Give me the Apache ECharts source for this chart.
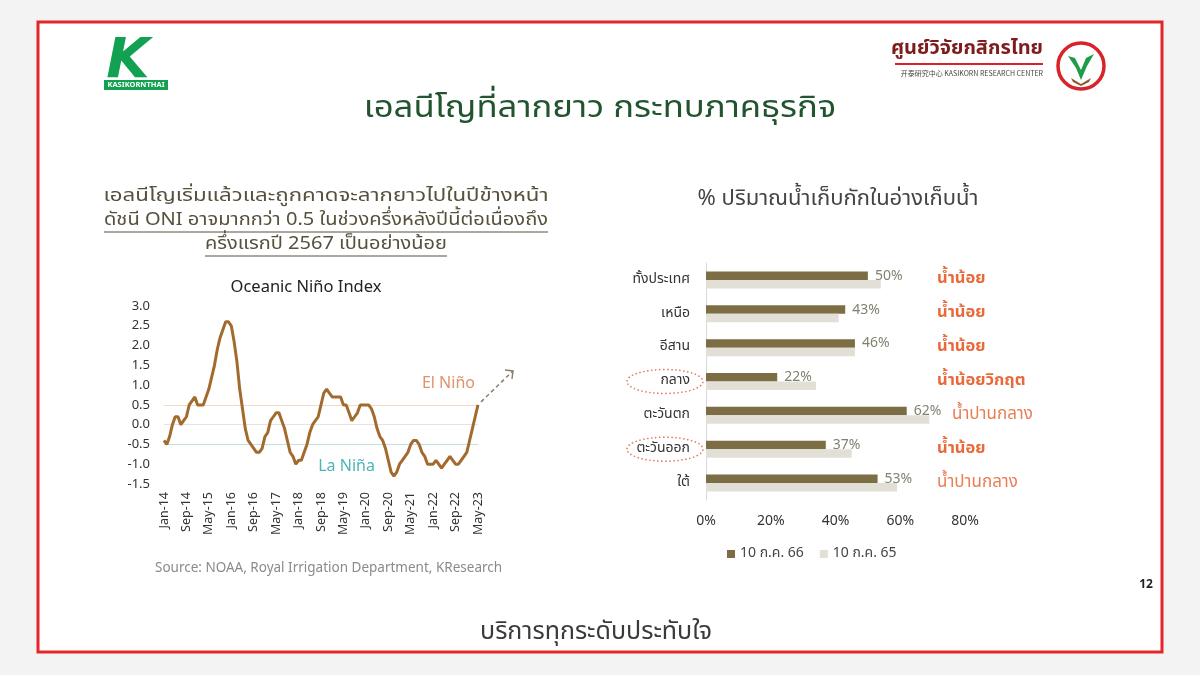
<!DOCTYPE html>
<html>
<head>
<meta charset="utf-8">
<script src="https://cdn.jsdelivr.net/npm/echarts@6/dist/echarts.min.js"></script>
<style>
html,body{margin:0;padding:0;background:#f3f3f3;}
#chart{width:1200px;height:675px;}
</style>
</head>
<body>
<div id="chart"></div>
<script>
// ---------------- DATA ----------------
const oniYears = ['14','15','16','17','18','19','20','21','22','23'];
const monthNames = ['Jan','Feb','Mar','Apr','May','Jun','Jul','Aug','Sep','Oct','Nov','Dec'];
const oni2014 = [-0.4,-0.5,-0.3,0.0,0.2,0.2,0.0,0.1,0.2,0.5,0.6,0.7];
const oni2015 = [0.5,0.5,0.5,0.7,0.9,1.2,1.5,1.9,2.2,2.4,2.6,2.6];
const oni2016 = [2.5,2.1,1.6,0.9,0.4,-0.1,-0.4,-0.5,-0.6,-0.7,-0.7,-0.6];
const oni2017 = [-0.3,-0.2,0.1,0.2,0.3,0.3,0.1,-0.1,-0.4,-0.7,-0.8,-1.0];
const oni2018 = [-0.9,-0.9,-0.7,-0.5,-0.2,0.0,0.1,0.2,0.5,0.8,0.9,0.8];
const oni2019 = [0.7,0.7,0.7,0.7,0.5,0.5,0.3,0.1,0.2,0.3,0.5,0.5];
const oni2020 = [0.5,0.5,0.4,0.2,-0.1,-0.3,-0.4,-0.6,-0.9,-1.2,-1.3,-1.2];
const oni2021 = [-1.0,-0.9,-0.8,-0.7,-0.5,-0.4,-0.4,-0.5,-0.7,-0.8,-1.0,-1.0];
const oni2022 = [-1.0,-0.9,-1.0,-1.1,-1.0,-0.9,-0.8,-0.9,-1.0,-1.0,-0.9,-0.8];
const oni2023 = [-0.7,-0.4,-0.1,0.2,0.5];
const oniYTicks = [-1.5,-1.0,-0.5,0.0,0.5,1.0,1.5,2.0,2.5,3.0];
const oniRefLines = [0.5, 0.0, -0.5];

const regions = ['ทั้งประเทศ','เหนือ','อีสาน','กลาง','ตะวันตก','ตะวันออก','ใต้'];
const storage66 = [50,43,46,22,62,37,53];
const storage65 = [54,41,46,34,69,45,59];
const status = ['น้ำน้อย','น้ำน้อย','น้ำน้อย','น้ำน้อยวิกฤต','น้ำปานกลาง','น้ำน้อย','น้ำปานกลาง'];
const pctTicks = [0,20,40,60,80];
const seriesNames = ['10 ก.ค. 66','10 ก.ค. 65'];
const highlightRegions = ['กลาง','ตะวันออก'];

// ---------------- BUILD ----------------
const oniValues = [].concat(oni2014,oni2015,oni2016,oni2017,oni2018,oni2019,oni2020,oni2021,oni2022,oni2023);
const oniCats = [];
oniYears.forEach(y => monthNames.forEach(m => oniCats.push(m + '-' + y)));
oniCats.length = oniValues.length;

const THAI = '"Noto Sans Thai","Noto Sans Thai Looped","Loma","Garuda","Noto Sans","DejaVu Sans",sans-serif';
const LAT = '"Noto Sans","Open Sans",sans-serif';

const chart = echarts.init(document.getElementById('chart'), null, {renderer:'canvas'});

function statusLabel(v, i) {
  const s = status[i];
  const normal = s.indexOf('ปานกลาง') >= 0;
  // push the note right when the value label of a long bar would run into it
  const key = normal ? (storage66[i] > 58 ? 'n2' : 'n') : 'b';
  return '{' + key + '|' + s + '}';
}

const option = {
  backgroundColor: '#f3f3f3',
  animation: false,
  textStyle: {fontFamily: THAI},
  grid: [
    {left: 164, right: 722, top: 306, height: 178, containLabel: false},
    {left: 706, right: 235, top: 263, bottom: 175, containLabel: false}
  ],
  legend: {
    data: seriesNames,
    left: 722, top: 542,
    itemWidth: 8, itemHeight: 8, itemGap: 16,
    icon: 'rect',
    textStyle: {fontSize: 14, color: '#444', fontFamily: THAI}
  },
  xAxis: [
    {
      gridIndex: 0, type: 'category', data: oniCats, boundaryGap: false,
      axisLine: {show: false}, axisTick: {show: false},
      axisLabel: {interval: 7, rotate: 90, fontSize: 12.5, color: '#333', margin: 8, fontFamily: LAT},
      splitLine: {show: false}
    },
    {
      gridIndex: 1, type: 'value', min: pctTicks[0], max: pctTicks[pctTicks.length-1], interval: 20,
      axisLine: {show: false}, axisTick: {show: false}, splitLine: {show: false},
      axisLabel: {formatter: '{value}%', fontSize: 14, color: '#333', margin: 14, fontFamily: LAT}
    }
  ],
  yAxis: [
    {
      gridIndex: 0, type: 'value', min: oniYTicks[0], max: oniYTicks[oniYTicks.length-1], interval: 0.5,
      axisLine: {show: false}, axisTick: {show: false}, splitLine: {show: false},
      axisLabel: {formatter: v => v.toFixed(1), fontSize: 13, color: '#333', margin: 14, fontFamily: LAT}
    },
    {
      gridIndex: 1, type: 'category', data: regions, inverse: true,
      axisLine: {show: true, lineStyle: {color: '#d9d9d9', width: 1}},
      axisTick: {show: false},
      axisLabel: {fontSize: 14, color: '#333', margin: 16, fontFamily: THAI}
    },
    {
      gridIndex: 1, type: 'category', data: regions, inverse: true, position: 'right',
      axisLine: {show: false}, axisTick: {show: false},
      axisLabel: {
        margin: -28, align: 'left',
        formatter: statusLabel,
        rich: {
          b: {fontSize: 16.5, fontWeight: 'bold', color: '#e86a3b', fontFamily: THAI},
          n: {fontSize: 17, color: '#ea7d52', fontFamily: THAI},
          n2: {fontSize: 17, color: '#ea7d52', fontFamily: THAI, padding: [0, 0, 0, 15]}
        }
      }
    }
  ],
  series: [
    {
      name: 'ONI', type: 'line', xAxisIndex: 0, yAxisIndex: 0,
      data: oniValues, showSymbol: false, symbol: 'none',
      lineStyle: {color: '#a36a2e', width: 3}, z: 5,
      markLine: {
        silent: true, symbol: 'none', label: {show: false},
        data: [
          {yAxis: oniRefLines[0], lineStyle: {color: '#f6d8c8', width: 1.2, type: 'solid'}},
          {yAxis: oniRefLines[1], lineStyle: {color: '#e4e4e4', width: 1.2, type: 'solid'}},
          {yAxis: oniRefLines[2], lineStyle: {color: '#bfe1e3', width: 1.2, type: 'solid'}}
        ]
      }
    },
    {
      name: seriesNames[0], type: 'bar', xAxisIndex: 1, yAxisIndex: 1,
      data: storage66, barWidth: 8.5, barGap: '0%',
      itemStyle: {color: '#7c6d45'},
      label: {show: true, position: 'right', distance: 7, formatter: '{c}%', fontSize: 14, color: '#828272', fontFamily: LAT}
    },
    {
      name: seriesNames[1], type: 'bar', xAxisIndex: 1, yAxisIndex: 1,
      data: storage65, barWidth: 8.5, barGap: '0%',
      itemStyle: {color: '#e2dfd7'}
    }
  ]
};
chart.setOption(option);

// ---------------- DECORATION / TEXT ----------------
const measure = (function(){
  const c = document.createElement('canvas').getContext('2d');
  return (txt, font) => { c.font = font; return c.measureText(txt).width; };
})();

const g = [];
// white slide with red frame
g.push({type:'rect', z:-10, shape:{x:38,y:22,width:1124,height:630}, style:{fill:'#ffffff', stroke:'#e3262c', lineWidth:3}});

// main title (wide display face imitated with a horizontal stretch)
g.push({type:'text', x:600, y:111, scaleX:1.12, style:{text:'เอลนีโญที่ลากยาว กระทบภาคธุรกิจ', font:'31px ' + THAI, fill:'#22552f', textAlign:'center', textVerticalAlign:'middle'}});

// left subtitle: each line stretched to the width it has on the slide
const subFont = '18.5px ' + THAI;
const subCol = '#56513c';
const subLines = [
  {t:'เอลนีโญเริ่มแล้วและถูกคาดจะลากยาวไปในปีข้างหน้า', y:197, u:false, w:445},
  {t:'ดัชนี ONI อาจมากกว่า 0.5 ในช่วงครึ่งหลังปีนี้ต่อเนื่องถึง', y:221, u:true, w:444},
  {t:'ครึ่งแรกปี 2567 เป็นอย่างน้อย', y:245, u:true, w:242}
];
subLines.forEach(l => {
  const sc = l.w / measure(l.t, subFont);
  g.push({type:'text', x:326, y:l.y, scaleX: sc, style:{text:l.t, font:subFont, fill:subCol, textAlign:'center', textVerticalAlign:'middle'}});
  if (l.u) {
    g.push({type:'line', shape:{x1:326-l.w/2, y1:l.y+11, x2:326+l.w/2, y2:l.y+11}, style:{stroke:subCol, lineWidth:1}});
  }
});

// left chart title
g.push({type:'text', x:306, y:287, style:{text:'Oceanic Niño Index', font:'16.5px ' + LAT, fill:'#222', textAlign:'center', textVerticalAlign:'middle'}});

// right chart title
g.push({type:'text', x:838, y:201, style:{text:'% ปริมาณน้ำเก็บกักในอ่างเก็บน้ำ', font:'22px ' + THAI, fill:'#444', textAlign:'center', textVerticalAlign:'middle'}});

// source
g.push({type:'text', x:155, y:568, style:{text:'Source: NOAA, Royal Irrigation Department, KResearch', font:'13.5px ' + LAT, fill:'#8a8a8a', textVerticalAlign:'middle'}});

// footer
g.push({type:'text', x:596, y:634, style:{text:'บริการทุกระดับประทับใจ', font:'25px ' + THAI, fill:'#3a3a3a', textAlign:'center', textVerticalAlign:'middle'}});
g.push({type:'text', x:1146, y:585, style:{text:'12', font:'bold 12px ' + LAT, fill:'#222', textAlign:'center', textVerticalAlign:'middle'}});

// KASIKORNTHAI logo
g.push({type:'text', x:128, y:62, style:{text:'K', font:'italic bold 56px "DejaVu Sans",sans-serif', fill:'#12a150', textAlign:'center', textVerticalAlign:'middle'}});
g.push({type:'rect', shape:{x:104,y:80,width:64,height:10}, style:{fill:'#12a150'}});
g.push({type:'text', x:136, y:85, style:{text:'KASIKORNTHAI', font:'bold 7.5px ' + LAT, fill:'#fff', textAlign:'center', textVerticalAlign:'middle'}});

// KResearch logo
g.push({type:'text', x:1043, y:50, style:{text:'ศูนย์วิจัยกสิกรไทย', font:'bold 20px ' + THAI, fill:'#7d1c1c', textAlign:'right', textVerticalAlign:'middle'}});
g.push({type:'line', shape:{x1:895,y1:64,x2:1043,y2:64}, style:{stroke:'#d9232b', lineWidth:2}});
g.push({type:'text', x:1043, y:73, style:{text:'开泰研究中心 KASIKORN RESEARCH CENTER', font:'7px "Noto Sans CJK SC",sans-serif', fill:'#444', textAlign:'right', textVerticalAlign:'middle'}});
g.push({type:'circle', shape:{cx:1081, cy:66, r:23}, style:{fill:'#fff', stroke:'#d9232b', lineWidth:3.5}});
g.push({type:'polygon', shape:{points:[[1081,80],[1076,68],[1068,56],[1075,58],[1081,70],[1086,58],[1094,54],[1087,66]]}, style:{fill:'#1e9c48'}});
g.push({type:'polygon', shape:{points:[[1071,78],[1081,84],[1091,78],[1089,82],[1081,86],[1073,82]]}, style:{fill:'#8b5a2b'}});

chart.setOption({graphic: g});

// annotations that depend on the axes
function placeAnnotations(){
  const extra = [];
  const last = oniValues.length - 1;
  const p = chart.convertToPixel({xAxisIndex:0, yAxisIndex:0}, [last, oniValues[last]]);
  const sx = p[0] + 3, sy = p[1] - 3, ex = p[0] + 35, ey = p[1] - 34;
  extra.push({type:'line', shape:{x1:sx,y1:sy,x2:ex,y2:ey}, style:{stroke:'#8c7f6e', lineWidth:1.5, lineDash:[4,3]}});
  extra.push({type:'polyline', shape:{points:[[ex-8,ey-1],[ex,ey],[ex-1,ey+8]]}, style:{stroke:'#8c7f6e', lineWidth:1.5, fill:null}});
  const elN = chart.convertToPixel({xAxisIndex:0, yAxisIndex:0}, [92, 1.05]);
  extra.push({type:'text', x:elN[0], y:elN[1], style:{text:'El Niño', font:'16px ' + LAT, fill:'#e0926c', textVerticalAlign:'middle'}});
  const laN = chart.convertToPixel({xAxisIndex:0, yAxisIndex:0}, [55, -1.05]);
  extra.push({type:'text', x:laN[0], y:laN[1], style:{text:'La Niña', font:'16px ' + LAT, fill:'#4cb5b8', textVerticalAlign:'middle'}});
  // dotted ellipses around highlighted regions
  const axX = chart.convertToPixel({xAxisIndex:1}, 0);
  highlightRegions.forEach(r => {
    const y = chart.convertToPixel({yAxisIndex:1}, r);
    const w = measure(r, '14px ' + THAI);
    extra.push({type:'ellipse', shape:{cx: axX - 41, cy: y, rx: Math.max(38, w/2 + 8), ry: 12}, style:{fill:null, stroke:'#e07a55', lineWidth:1.5, lineDash:[1.5,2.5]}});
  });
  chart.setOption({graphic: g.concat(extra)});
}
placeAnnotations();
</script>
</body>
</html>
